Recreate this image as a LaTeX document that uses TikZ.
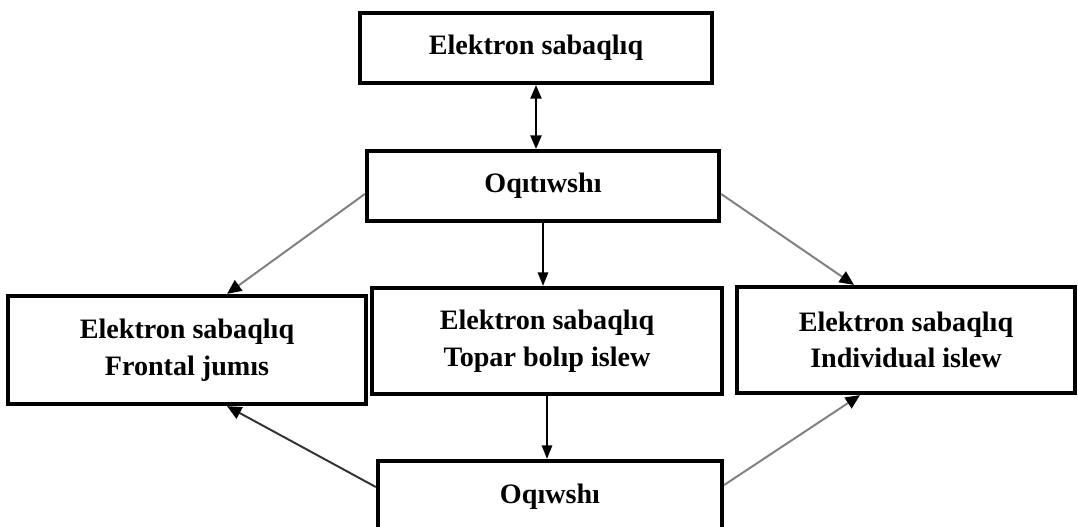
\documentclass[tikz,border=0pt]{standalone}
\usepackage{fontspec}
\setmainfont{Liberation Serif}
\usetikzlibrary{arrows.meta}

\begin{document}
\begin{tikzpicture}[x=0.025cm,y=-0.025cm]
\useasboundingbox (0,0) rectangle (1078,526);
\begin{scope}[every node/.style={rectangle,draw,line width=3pt,align=center,
  font=\fontsize{20}{26}\selectfont\bfseries}]
\node (sabaq) [minimum width=8.8cm,minimum height=1.75cm] at (536,48) {Elektron sabaqlıq};
\node (oqitiwshi) [minimum width=8.8cm,minimum height=1.75cm] at (543,186) {Oqıtıwshı};

\node (frontal) [minimum width=8.95cm,minimum height=2.7cm] at (187,350) {Elektron sabaqlıq\\Frontal jumıs};
\node (topar) [minimum width=8.75cm,minimum height=2.65cm] at (547,341) {Elektron sabaqlıq\\Topar bolıp islew};
\node (individual) [minimum width=8.45cm,minimum height=2.65cm] at (906,340) {Elektron sabaqlıq\\Individual islew};

\node (oqiwshi) [minimum width=8.6cm,minimum height=1.8cm] at (550,497) {Oqıwshı};
\end{scope}

\draw[line width=1.3pt, {Triangle[length=0.34cm,width=0.28cm]}-{Triangle[length=0.34cm,width=0.28cm]}] (sabaq.south) -- (sabaq.south |- oqitiwshi.north);
\draw[line width=1.3pt, -{Triangle[length=0.34cm,width=0.26cm]}] (oqitiwshi.south) -- (oqitiwshi.south |- topar.north);
\draw[line width=1.3pt, -{Triangle[length=0.34cm,width=0.26cm]}] (topar.south) -- (topar.south |- oqiwshi.north);

\draw[line width=1.4pt, gray, -{Triangle[black,length=0.36cm,width=0.32cm]}] ([yshift=-0.2cm]oqitiwshi.west) -- ([xshift=1cm]frontal.north);
\draw[line width=1.4pt, gray, -{Triangle[black,length=0.36cm,width=0.32cm]}] ([yshift=-0.2cm]oqitiwshi.east) -- ([xshift=-1.3cm]individual.north);
\draw[line width=1.4pt, black!80, -{Triangle[black,length=0.36cm,width=0.32cm]}] ([yshift=0.25cm]oqiwshi.west) -- ([xshift=1cm]frontal.south);
\draw[line width=1.4pt, gray, -{Triangle[black,length=0.36cm,width=0.32cm]}] ([yshift=0.3cm]oqiwshi.east) -- ([xshift=-1.15cm]individual.south);

\end{tikzpicture}
\end{document}
